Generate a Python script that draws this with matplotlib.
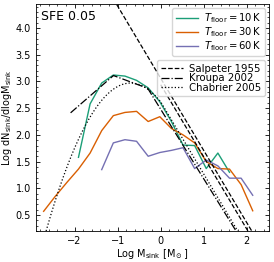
import numpy as np
import matplotlib
matplotlib.use("Agg")
import matplotlib.pyplot as plt
from matplotlib.ticker import MultipleLocator

# histogram bin centres (log M_sink) and log dN/dlogM for each floor temperature
x_10K = [-1.91, -1.64, -1.37, -1.10, -0.83, -0.56, -0.29, -0.02, 0.25, 0.52, 0.79, 1.06, 1.33, 1.60]
y_10K = [1.58, 2.58, 2.97, 3.12, 3.10, 3.02, 2.88, 2.62, 2.25, 1.81, 1.80, 1.37, 1.66, 1.30]

x_30K = [-2.72, -2.45, -2.18, -1.91, -1.64, -1.37, -1.10, -0.83, -0.56, -0.29, -0.02,
         0.25, 0.52, 0.79, 1.06, 1.33, 1.60, 1.87, 2.14]
y_30K = [0.57, 0.85, 1.11, 1.36, 1.66, 2.08, 2.36, 2.42, 2.44, 2.25, 2.34,
         2.12, 2.00, 1.85, 1.50, 1.37, 1.36, 1.07, 0.58]

x_60K = [-1.37, -1.10, -0.83, -0.56, -0.29, -0.02, 0.25, 0.52, 0.79, 1.06, 1.33, 1.60, 1.87, 2.14]
y_60K = [1.35, 1.85, 1.91, 1.88, 1.60, 1.67, 1.71, 1.76, 1.37, 1.53, 1.42, 1.19, 1.19, 0.87]

labels = [r"$T_\mathrm{floor} = 10\,\mathrm{K}$",
          r"$T_\mathrm{floor} = 30\,\mathrm{K}$",
          r"$T_\mathrm{floor} = 60\,\mathrm{K}$"]
colors = ["#1b9e77", "#d95f02", "#7570b3"]

# reference IMFs in log dN/dlogM
salpeter_norm = 3.06
salpeter_norm2 = 2.94   # second, lower Salpeter slope line (high-mass end)
kroupa_peak = 3.11
chabrier_peak = 2.97

lm = np.linspace(-3.0, 2.6, 600)

salpeter = salpeter_norm - 1.35 * lm
lm_s2 = lm[lm >= 0.0]
salpeter2 = salpeter_norm2 - 1.35 * lm_s2

lm_k = lm[lm >= -2.1]
lb1, lb2 = np.log10(0.08), np.log10(0.5)
kroupa = np.where(lm_k < lb1, kroupa_peak + 0.7 * (lm_k - lb1),
                  np.where(lm_k < lb2, kroupa_peak - 0.3 * (lm_k - lb1),
                           kroupa_peak - 0.3 * (lb2 - lb1) - 1.3 * (lm_k - lb2)))

lc, sig = np.log10(0.2), 0.55
logn = lambda x: chabrier_peak - (x - lc) ** 2 / (2 * sig ** 2) / np.log(10)
chabrier = np.where(lm < 0, logn(lm), logn(0.0) - 1.35 * lm)

plt.rcParams["font.size"] = 7
fig = plt.figure(figsize=(2.74, 2.62), dpi=100)
ax = fig.add_axes([0.131, 0.118, 0.851, 0.867])

handles = []
for xs, ys, lab, c in zip([x_10K, x_30K, x_60K], [y_10K, y_30K, y_60K], labels, colors):
    h, = ax.plot(xs, ys, color=c, lw=1.0, label=lab)
    handles.append(h)

h1, = ax.plot(lm, salpeter, "k--", lw=0.9, label="Salpeter 1955")
ax.plot(lm_s2, salpeter2, "k--", lw=0.9)
h2, = ax.plot(lm_k, kroupa, "k-.", lw=0.9, label="Kroupa 2002")
h3, = ax.plot(lm, chabrier, "k:", lw=0.9, label="Chabrier 2005")

ax.set_xlim(-2.9, 2.52)
ax.set_ylim(0.2, 4.45)
ax.xaxis.set_major_locator(MultipleLocator(1))
ax.xaxis.set_minor_locator(MultipleLocator(0.2))
ax.yaxis.set_major_locator(MultipleLocator(0.5))
ax.yaxis.set_minor_locator(MultipleLocator(0.1))
ax.tick_params(which="both", direction="in", top=True, right=True, labelsize=7)
ax.tick_params(which="major", length=3, width=0.6)
ax.tick_params(which="minor", length=1.5, width=0.5)
for s in ax.spines.values():
    s.set_linewidth(0.6)

ax.set_xlabel(r"Log M$_\mathrm{sink}$ [M$_\odot$]", fontsize=7, labelpad=1)
ax.set_ylabel(r"Log dN$_\mathrm{sink}$/dlogM$_\mathrm{sink}$", fontsize=7, labelpad=1)
ax.text(0.02, 0.975, "SFE 0.05", transform=ax.transAxes, fontsize=9, va="top", ha="left")

leg1 = ax.legend(handles=handles, loc="upper right", fontsize=7.2, handlelength=2.2,
                 borderpad=0.35, labelspacing=0.0, handletextpad=0.6, borderaxespad=0.4)
ax.add_artist(leg1)
ax.legend(handles=[h1, h2, h3], loc="upper right", bbox_to_anchor=(1.0, 0.77), fontsize=7.3,
          handlelength=2.2, borderpad=0.35, labelspacing=-0.06, handletextpad=0.6,
          borderaxespad=0.4)

fig.savefig("out.png", dpi=100)
